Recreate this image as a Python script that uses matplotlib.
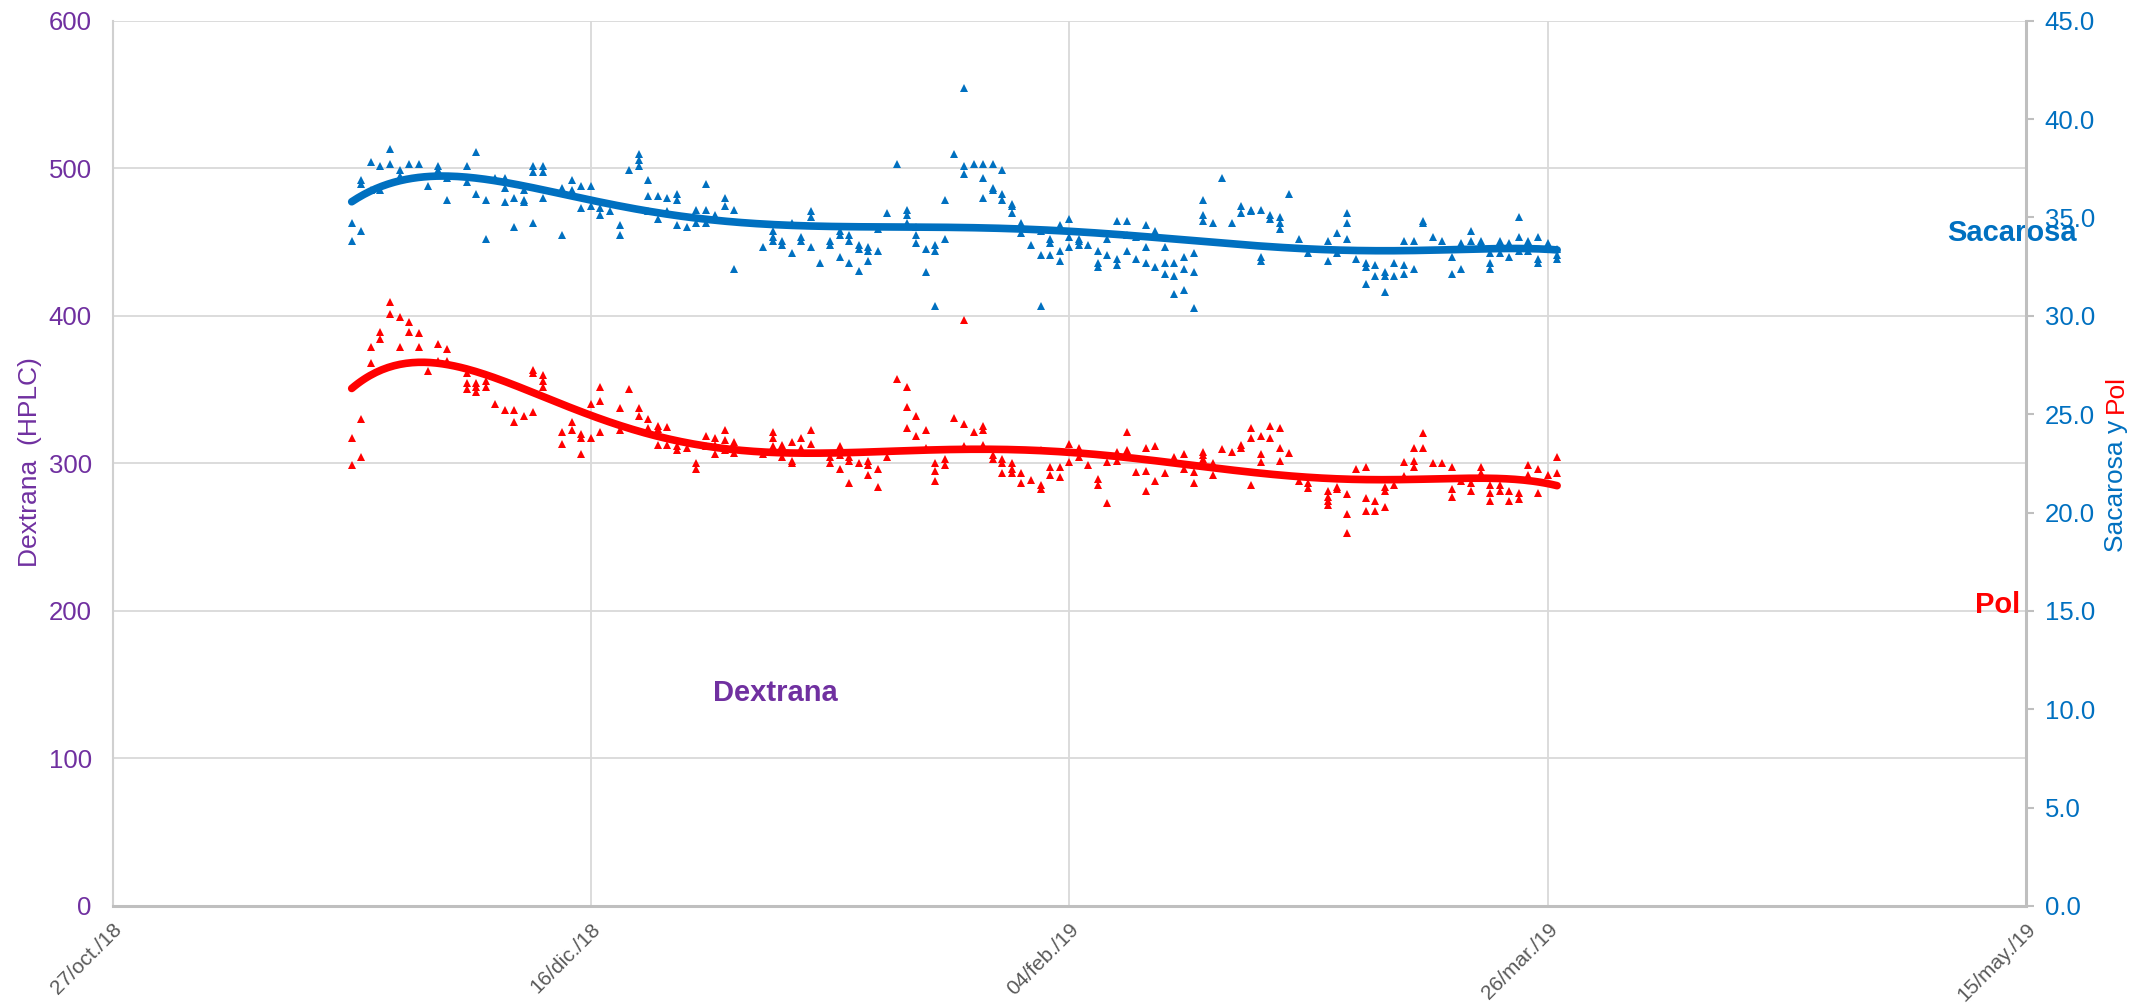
import numpy as np
import pandas as pd
import matplotlib
matplotlib.use('Agg')
from matplotlib import pyplot as plt
import matplotlib.dates as mdates

plt.rcParams['font.family'] = ['Liberation Sans', 'DejaVu Sans']

# primer dia con datos; cada lista interna = muestras de ese dia
inicio = pd.Timestamp('2018-11-21')

sacarosa = [
    [34.7, 33.8], [36.9, 36.7, 34.3], [37.8, 36.4], [37.6, 36.4], [38.5, 37.7],
    [37.4, 37.1], [37.7], [37.7], [36.6], [37.6, 37.4],
    [37.0, 35.9], [], [37.6, 36.8], [38.3, 36.2], [35.9, 33.9],
    [37.0], [37.0, 36.5, 35.8], [36.0, 34.5], [36.4, 35.9, 35.8], [37.6, 37.3, 34.7],
    [37.6, 37.3, 36.0], [], [36.5, 34.1], [36.9, 36.4], [36.6, 35.5],
    [36.6, 35.6], [35.5, 35.1], [35.3], [34.6, 34.1], [37.4],
    [38.2, 37.9, 37.6], [36.9, 36.1, 35.3], [36.1, 34.9], [36.0, 35.3], [36.2, 35.9, 34.6],
    [34.5], [35.4, 34.7], [36.7, 35.4, 34.7], [35.1], [36.0, 35.6],
    [35.4, 32.4], [], [], [33.5], [34.3, 34.0, 33.8],
    [33.8, 33.6], [34.7, 33.2], [34.0, 33.8], [35.3, 35.0, 33.5], [32.7],
    [33.8, 33.6], [34.3, 34.1, 33.0], [34.1, 33.8, 32.7], [33.6, 33.4, 32.3], [33.5, 33.3, 32.8],
    [34.4, 33.3], [35.2], [37.7], [35.4, 35.1, 34.7], [34.5, 34.1, 33.7],
    [33.4, 32.2], [33.6, 33.3, 30.5], [35.9, 33.9], [38.2], [41.6, 37.6, 37.2],
    [37.7], [37.7, 37.0, 36.0], [37.7, 36.5, 36.4], [37.4, 36.2, 35.9], [35.7, 35.6, 35.2],
    [34.7, 34.2], [33.6], [34.3, 33.1, 30.5], [33.9, 33.7, 33.1], [34.6, 33.3, 32.8],
    [34.9, 34.0, 33.5], [33.9, 33.8, 33.6], [33.6], [33.3, 32.7, 32.5], [33.9, 33.1],
    [34.8, 32.9, 32.6], [34.8, 34.1, 33.3], [34.0, 32.9], [34.6, 33.5, 32.7], [34.3, 32.5],
    [33.5, 32.7, 32.1], [32.7, 32.0, 31.1], [33.0, 32.4, 31.3], [33.2, 32.2, 30.4], [35.9, 35.1, 34.8],
    [34.7], [37.0], [34.7], [35.6, 35.2], [35.4, 35.3],
    [35.4, 33.0, 32.8], [35.1, 34.9], [35.0, 34.7, 34.4], [36.2], [33.9],
    [33.2], [], [33.8, 32.8], [34.2, 33.2], [35.2, 34.7, 33.9],
    [32.9], [32.7, 32.5, 31.6], [32.6, 32.0], [32.2, 32.0, 31.2], [32.7, 32.0],
    [33.8, 32.6, 32.1], [33.8, 32.4], [34.8, 34.7], [34.0], [33.8],
    [33.0, 32.1], [33.7, 32.4], [34.3, 33.8], [33.8, 33.7], [33.2, 32.7, 32.4],
    [33.8, 33.6, 33.2], [33.7, 33.0], [35.0, 34.0, 33.3], [33.8, 33.7, 33.3], [34.0, 32.9, 32.7],
    [33.7], [33.4, 33.1, 32.9],
]

pol = [
    [23.8, 22.4], [24.75, 22.8], [28.4, 27.6], [29.2, 28.8], [30.7, 30.1],
    [29.95, 28.4], [29.7, 29.2], [29.1, 28.4], [27.2], [28.55, 27.7],
    [28.3, 27.7], [], [27.1, 26.6, 26.3], [26.6, 26.4, 26.1], [26.7, 26.4],
    [25.5], [25.2], [25.2, 24.6], [24.9], [27.25, 27.1, 25.1],
    [27.0, 26.7, 26.4], [], [24.1, 23.5], [24.6, 24.2], [24.0, 23.8, 22.95],
    [25.5, 23.8], [26.4, 25.65, 24.1], [], [25.3, 24.2], [26.3],
    [25.3, 24.9], [24.75, 24.3], [24.4, 24.25, 23.45], [24.35, 23.45], [23.4, 23.2],
    [23.3], [22.5, 22.2], [23.9, 23.4], [23.8, 23.45, 22.95], [24.2, 23.7, 23.2],
    [23.6, 23.0], [], [], [22.95], [24.1, 23.8, 23.4],
    [23.45, 22.8], [23.6, 22.6, 22.5], [23.8, 23.3], [24.2, 23.5], [],
    [22.8, 22.5], [23.4, 22.9, 22.2], [22.8, 22.6, 21.5], [22.5], [22.6, 22.4, 21.9],
    [22.2, 21.3], [22.8], [26.8], [26.4, 25.35, 24.3], [24.9, 23.9],
    [24.2, 23.3], [22.5, 22.1, 21.6], [22.7, 22.4], [24.8], [29.8, 24.5, 23.4],
    [24.1], [24.4, 24.2, 23.45], [22.9, 22.7], [22.7, 22.5, 22.0], [22.5, 22.2, 22.0],
    [22.0, 21.5], [21.65], [23.2, 21.4, 21.2], [22.3, 21.9], [22.3, 21.8],
    [23.5, 22.56], [23.3, 22.8], [22.4], [21.7, 21.4], [22.56, 20.5],
    [23.1, 22.6], [24.1, 23.2], [22.05], [23.3, 22.1, 21.1], [23.4, 21.6],
    [22.0], [22.8], [22.95, 22.2], [22.05, 21.5], [23.1, 22.9, 22.7],
    [22.5, 21.9], [23.25], [23.1], [23.45, 23.3], [24.3, 23.8, 21.4],
    [23.9, 22.95, 22.56], [24.4, 23.8], [24.3, 23.3, 22.6], [23.0], [21.6],
    [21.5, 21.25], [], [21.1, 20.8, 20.6, 20.4], [21.3, 21.2], [20.95, 19.94, 18.97],
    [22.2], [22.3, 20.75, 20.07], [20.6, 20.07], [21.3, 21.1, 20.3], [21.4],
    [22.56, 21.85], [23.3, 22.6, 22.3], [24.05, 23.3], [22.5], [22.5],
    [22.3, 21.2, 20.8], [21.6], [21.5, 21.1], [22.3, 22.0], [21.4, 21.0, 20.6],
    [21.4, 21.1], [21.1, 20.6], [21.0, 20.7], [22.4, 21.9], [22.2, 21.0],
    [21.9], [22.8, 22.0],
]

tick_fechas = ['2018-10-27', '2018-12-16', '2019-02-04', '2019-03-26', '2019-05-15']
tick_labels = ['27/oct./18', '16/dic./18', '04/feb./19', '26/mar./19', '15/may./19']
dextrana_ticks = [0, 100, 200, 300, 400, 500, 600]
sac_pol_ticks = [0, 5, 10, 15, 20, 25, 30, 35, 40, 45]

AZUL = '#0070C0'
ROJO = '#FF0000'
MORADO = '#7030A0'
GRIS = '#595959'


def Aplanar(por_dia):
    dias, vals = [], []
    for k, lista in enumerate(por_dia):
        for v in lista:
            dias.append(k)
            vals.append(v)
    return np.array(dias, dtype=float), np.array(vals)


def Tendencia(dias, vals):
    # polinomica de orden 6, como la linea de tendencia de Excel
    p = np.polynomial.Polynomial.fit(dias, vals, 6)
    xs = np.linspace(dias.min(), dias.max(), 400)
    return xs, p(xs)


def MakePlot():
    fig = plt.figure(figsize=(21.52, 10.07), dpi=100)
    ax = fig.add_subplot(111)
    fig.subplots_adjust(left=0.0523, right=0.9414, bottom=0.1003, top=0.9795)
    ax2 = ax.twinx()

    x0 = mdates.date2num(inicio)
    xt = mdates.date2num(pd.to_datetime(tick_fechas))

    for datos, color in [(sacarosa, AZUL), (pol, ROJO)]:
        d, v = Aplanar(datos)
        ax2.plot(x0 + d, v, linestyle='none', marker='^', markersize=6,
                 color=color, markeredgewidth=0, zorder=3)
        tx, ty = Tendencia(d, v)
        ax2.plot(x0 + tx, ty, color=color, linewidth=5.5,
                 solid_capstyle='round', zorder=4)

    ax.set_xlim(xt[0], xt[-1])
    ax.set_ylim(0, 600)
    ax2.set_ylim(0, 45)
    ax.set_xticks(xt)
    ax.set_xticklabels(tick_labels, rotation=45, ha='right', va='top',
                       rotation_mode='anchor', color=GRIS, fontsize=15)
    ax.set_yticks(dextrana_ticks)
    ax.set_yticklabels([str(t) for t in dextrana_ticks], color=MORADO, fontsize=18.5)
    ax2.set_yticks(sac_pol_ticks)
    ax2.set_yticklabels(['%.1f' % t for t in sac_pol_ticks], color=AZUL, fontsize=18.5)

    ax.grid(True, color='#d9d9d9', linewidth=1.3)
    ax.set_axisbelow(True)
    ax.tick_params(axis='y', length=0, pad=15)
    ax.tick_params(axis='x', length=0, pad=10)
    ax2.tick_params(axis='y', length=6, width=1.5, color='#bfbfbf', pad=7.5)

    for a in [ax, ax2]:
        a.spines['top'].set_visible(False)
    ax.spines['right'].set_visible(False)
    ax2.spines['left'].set_visible(False)
    ax2.spines['bottom'].set_visible(False)
    ax.spines['left'].set_color('#d0d0d0')
    ax.spines['left'].set_linewidth(1.5)
    ax.spines['bottom'].set_color('#bfbfbf')
    ax.spines['bottom'].set_linewidth(2.2)
    ax2.spines['right'].set_color('#bfbfbf')
    ax2.spines['right'].set_linewidth(2.2)

    fig.text(0.014, 0.541, 'Dextrana  (HPLC)', rotation=90, ha='center',
             va='center', color=MORADO, fontsize=19)
    t1 = fig.text(0.9833, 0.452, 'Sacarosa y', rotation=90, ha='center',
                  va='bottom', color=AZUL, fontsize=19)
    ax2.annotate('Pol', xy=(0.5, 1), xycoords=t1, xytext=(0, 5),
                 textcoords='offset points', rotation=90, ha='center',
                 va='bottom', color=ROJO, fontsize=19, annotation_clip=False)

    ax.text(0.9927, 0.760, 'Sacarosa', transform=ax.transAxes, ha='center',
            va='center', color=AZUL, fontsize=21, fontweight='bold')
    ax.text(0.9969, 0.340, 'Pol', transform=ax.transAxes, ha='right',
            va='center', color=ROJO, fontsize=21, fontweight='bold')
    ax.text(0.3462, 0.2406, 'Dextrana', transform=ax.transAxes, ha='center',
            va='center', color=MORADO, fontsize=21, fontweight='bold')

    fig.savefig('out.png', dpi=100)


if __name__ == '__main__':
    MakePlot()
